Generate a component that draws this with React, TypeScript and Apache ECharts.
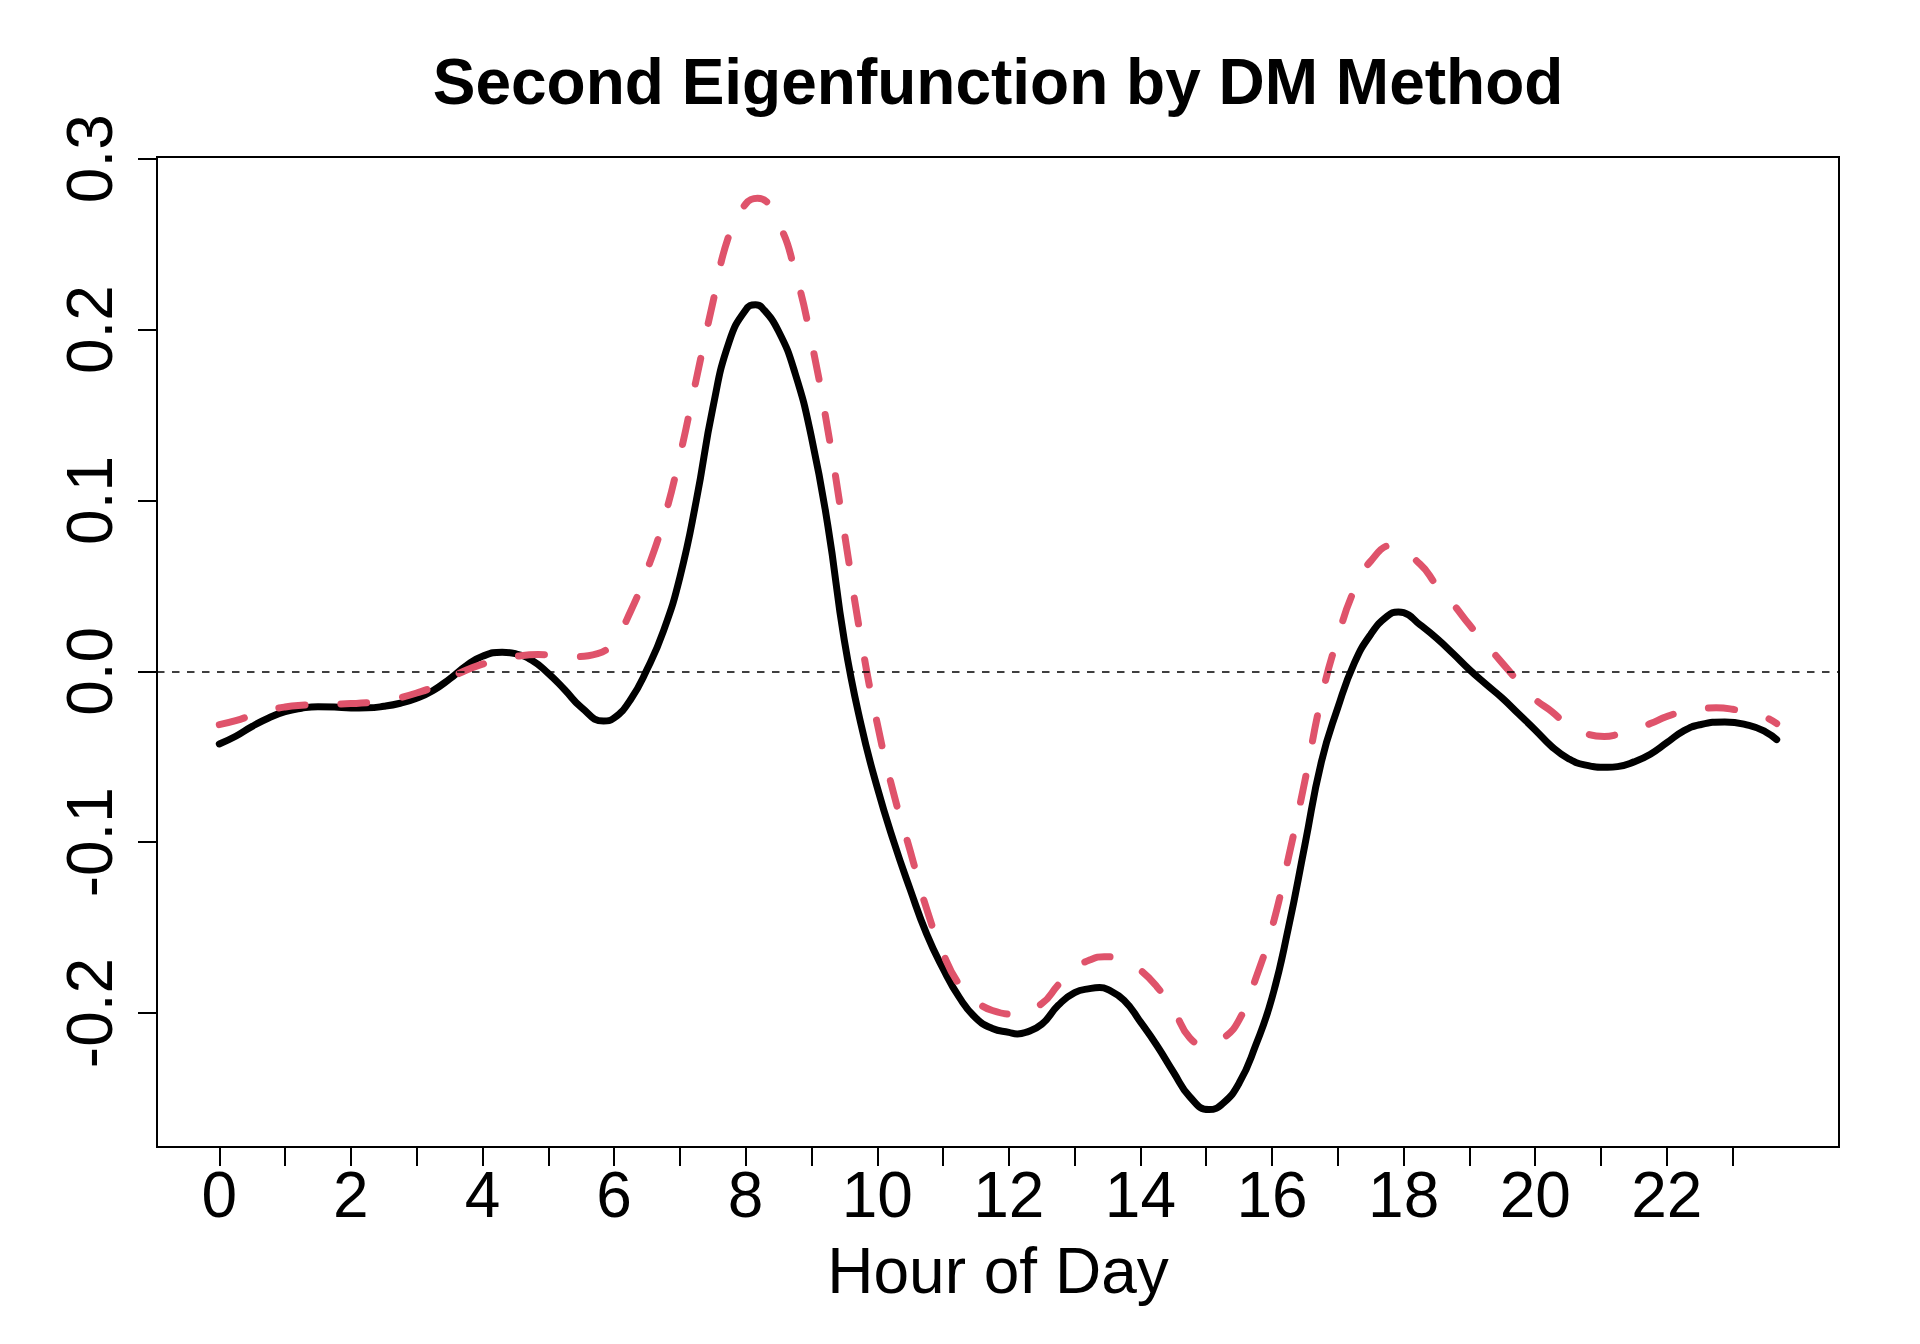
import React, { useEffect, useRef } from "react";
import * as echarts from "echarts";

// Solid black curve: hour of day and value
const blackHours: number[] = [
  0, 0.25, 0.5, 0.75, 1, 1.25, 1.5, 1.75, 2, 2.25, 2.5, 2.75,
  3, 3.25, 3.5, 3.75, 4, 4.3, 4.5, 4.75, 5, 5.25, 5.5, 5.84,
  6, 6.25, 6.5, 6.75, 7, 7.25, 7.5, 7.75, 8, 8.15, 8.25, 8.5, 8.75,
  9, 9.25, 9.5, 9.75, 10, 10.25, 10.5, 10.75, 11, 11.25, 11.5, 11.75,
  12, 12.13, 12.25, 12.5, 12.75, 13, 13.25, 13.38, 13.5, 13.75,
  14, 14.25, 14.5, 14.75, 15.04, 15.25, 15.5, 15.75,
  16, 16.25, 16.5, 16.75, 17, 17.25, 17.5, 17.75, 17.92,
  18, 18.25, 18.5, 18.75, 19, 19.25, 19.5, 19.75,
  20, 20.25, 20.5, 20.75, 21.1, 21.25, 21.5, 21.75,
  22, 22.25, 22.5, 22.88, 23.25, 23.5, 23.67,
];
const blackValues: number[] = [
  -0.0425, -0.038, -0.0322, -0.0273, -0.0236, -0.0216, -0.0207, -0.0209, -0.0215, -0.0214, -0.0205, -0.0187,
  -0.0158, -0.0112, -0.0045, 0.0032, 0.0088, 0.0112, 0.0103, 0.0065, -0.0012, -0.0108, -0.021, -0.0291,
  -0.0273, -0.0166, 0.001, 0.0235, 0.055, 0.1, 0.154, 0.193, 0.2115, 0.2145, 0.2128, 0.199, 0.1746,
  0.137, 0.085, 0.018, -0.0306, -0.068, -0.0996, -0.1276, -0.1537, -0.174, -0.191, -0.203, -0.209,
  -0.2113, -0.2122, -0.2114, -0.2066, -0.1955, -0.188, -0.1856, -0.1851, -0.1862, -0.1925,
  -0.2052, -0.219, -0.2345, -0.249, -0.2565, -0.253, -0.241, -0.219,
  -0.191, -0.15, -0.1015, -0.053, -0.0213, 0.0048, 0.0216, 0.0322, 0.0347,
  0.0343, 0.0272, 0.0194, 0.0104, 0.001, -0.0075, -0.0157, -0.025,
  -0.0343, -0.044, -0.051, -0.0548, -0.0562, -0.0558, -0.053, -0.0485,
  -0.0418, -0.035, -0.0313, -0.0296, -0.0317, -0.0354, -0.04,
];

// Dashed red curve: hour of day and value
const redHours: number[] = [
  0, 0.25, 0.5, 0.75, 1, 1.25, 1.5, 1.75, 2, 2.25, 2.5, 2.75,
  3, 3.25, 3.5, 3.75, 4, 4.25, 4.5, 4.85, 5.1, 5.4, 5.75,
  6, 6.25, 6.5, 6.75, 7, 7.25, 7.5, 7.75, 8, 8.18, 8.5, 8.75,
  9, 9.25, 9.5, 9.75, 10, 10.25, 10.5, 10.75, 11, 11.25, 11.5, 11.75,
  12.12, 12.5, 12.75, 13, 13.25, 13.45, 13.75,
  14, 14.25, 14.5, 14.75, 15, 15.25, 15.5, 15.75,
  16, 16.25, 16.5, 16.75, 17, 17.25, 17.5, 17.83,
  18.25, 18.5, 18.75, 19, 19.25, 19.5, 19.75,
  20, 20.25, 20.5, 20.75, 21.05, 21.25, 21.5, 21.75,
  22, 22.25, 22.5, 22.75, 23, 23.25, 23.5, 23.67,
];
const redValues: number[] = [
  -0.0312, -0.0289, -0.0257, -0.0228, -0.0209, -0.0199, -0.0195, -0.0192, -0.0189, -0.0184, -0.0174, -0.0154,
  -0.0127, -0.0092, -0.0042, 0.0006, 0.0042, 0.0068, 0.0087, 0.0098, 0.0093, 0.0086, 0.0103,
  0.018, 0.035, 0.059, 0.088, 0.126, 0.171, 0.2156, 0.2556, 0.2735, 0.2768, 0.262, 0.234,
  0.193, 0.141, 0.081, 0.0198, -0.0306, -0.0716, -0.105, -0.139, -0.165, -0.1835, -0.193, -0.1985,
  -0.2007, -0.1945, -0.1835, -0.174, -0.1686, -0.1671, -0.169,
  -0.175, -0.1846, -0.198, -0.2145, -0.219, -0.215, -0.204, -0.18,
  -0.15, -0.109, -0.064, -0.0157, 0.0198, 0.0477, 0.0645, 0.0737,
  0.0627, 0.0504, 0.0395, 0.0272, 0.016, 0.0048, -0.0063,
  -0.0164, -0.0235, -0.0317, -0.0362, -0.0381, -0.037, -0.0343, -0.0306,
  -0.0265, -0.0235, -0.022, -0.0213, -0.0222, -0.0245, -0.0269, -0.0306,
];

const xTickValues: number[] = [0, 1, 2, 3, 4, 5, 6, 7, 8, 9, 10, 11, 12, 13, 14, 15, 16, 17, 18, 19, 20, 21, 22, 23];
const xLabelValues: number[] = [0, 2, 4, 6, 8, 10, 12, 14, 16, 18, 20, 22];
const yTickValues: number[] = [-0.2, -0.1, 0, 0.1, 0.2, 0.3];

const X_MIN = -0.9468;
const X_MAX = 24.617;
const Y_MIN = -0.2784;
const Y_MAX = 0.301;

const FONT = "'Liberation Sans', Arial, sans-serif";

export default function App() {
  const ref = useRef<HTMLDivElement | null>(null);

  useEffect(() => {
    if (!ref.current) return;
    const chart = echarts.init(ref.current, undefined, { renderer: "svg" });
    const blackData = blackHours.map((h, i) => [h, blackValues[i]]);
    const redData = redHours.map((h, i) => [h, redValues[i]]);

    const option: any = {
      animation: false,
      backgroundColor: "#ffffff",
      title: {
        text: "Second Eigenfunction by DM Method",
        left: 998,
        top: 50,
        textAlign: "center",
        padding: 0,
        textStyle: {
          fontFamily: FONT,
          fontSize: 64,
          fontWeight: "bold",
          color: "#000000",
          lineHeight: 64,
        },
      },
      grid: {
        left: 157,
        top: 157,
        right: 81,
        bottom: 197,
        show: true,
        borderColor: "#000000",
        borderWidth: 2,
        backgroundColor: "transparent",
        containLabel: false,
        outerBoundsMode: "none",
      },
      xAxis: {
        type: "value",
        position: "bottom",
        min: X_MIN,
        max: X_MAX,
        axisLine: { show: false, onZero: false },
        axisTick: {
          show: true,
          length: 19,
          inside: false,
          customValues: xTickValues,
          lineStyle: { color: "#000000", width: 2 },
        },
        axisLabel: {
          show: true,
          customValues: xLabelValues,
          margin: 16,
          fontFamily: FONT,
          fontSize: 64,
          lineHeight: 64,
          color: "#000000",
          formatter: (v: number) => String(Math.round(v)),
        },
        splitLine: { show: false },
        name: "Hour of Day",
        nameLocation: "middle",
        nameGap: 92,
        nameTextStyle: {
          fontFamily: FONT,
          fontSize: 64,
          lineHeight: 64,
          color: "#000000",
        },
      },
      yAxis: {
        type: "value",
        position: "left",
        min: Y_MIN,
        max: Y_MAX,
        axisLine: { show: false, onZero: false },
        axisTick: {
          show: true,
          length: 19,
          inside: false,
          customValues: yTickValues,
          lineStyle: { color: "#000000", width: 2 },
        },
        axisLabel: {
          show: true,
          customValues: yTickValues,
          rotate: 90,
          margin: 35,
          fontFamily: FONT,
          fontSize: 64,
          lineHeight: 64,
          color: "#000000",
          formatter: (v: number) => v.toFixed(1),
        },
        splitLine: { show: false },
      },
      series: [
        {
          type: "line",
          data: blackData,
          showSymbol: false,
          symbol: "none",
          smooth: 0.5,
          lineStyle: { color: "#000000", width: 7, cap: "round", join: "round" },
          z: 2,
          markLine: {
            silent: true,
            symbol: ["none", "none"],
            label: { show: false },
            lineStyle: { color: "#000000", width: 1.6, type: [7.5, 7.5] },
            data: [{ yAxis: 0 }],
          },
        },
        {
          type: "line",
          data: redData,
          showSymbol: false,
          symbol: "none",
          smooth: 0.5,
          lineStyle: { color: "#DF536B", width: 7, type: [26, 36], cap: "round", join: "round" },
          z: 3,
        },
      ],
    };
    chart.setOption(option);
    return () => {
      chart.dispose();
    };
  }, []);

  return (
    <div
      ref={ref}
      style={{ position: "absolute", left: 0, top: 0, width: 1920, height: 1344, background: "#ffffff" }}
    />
  );
}
